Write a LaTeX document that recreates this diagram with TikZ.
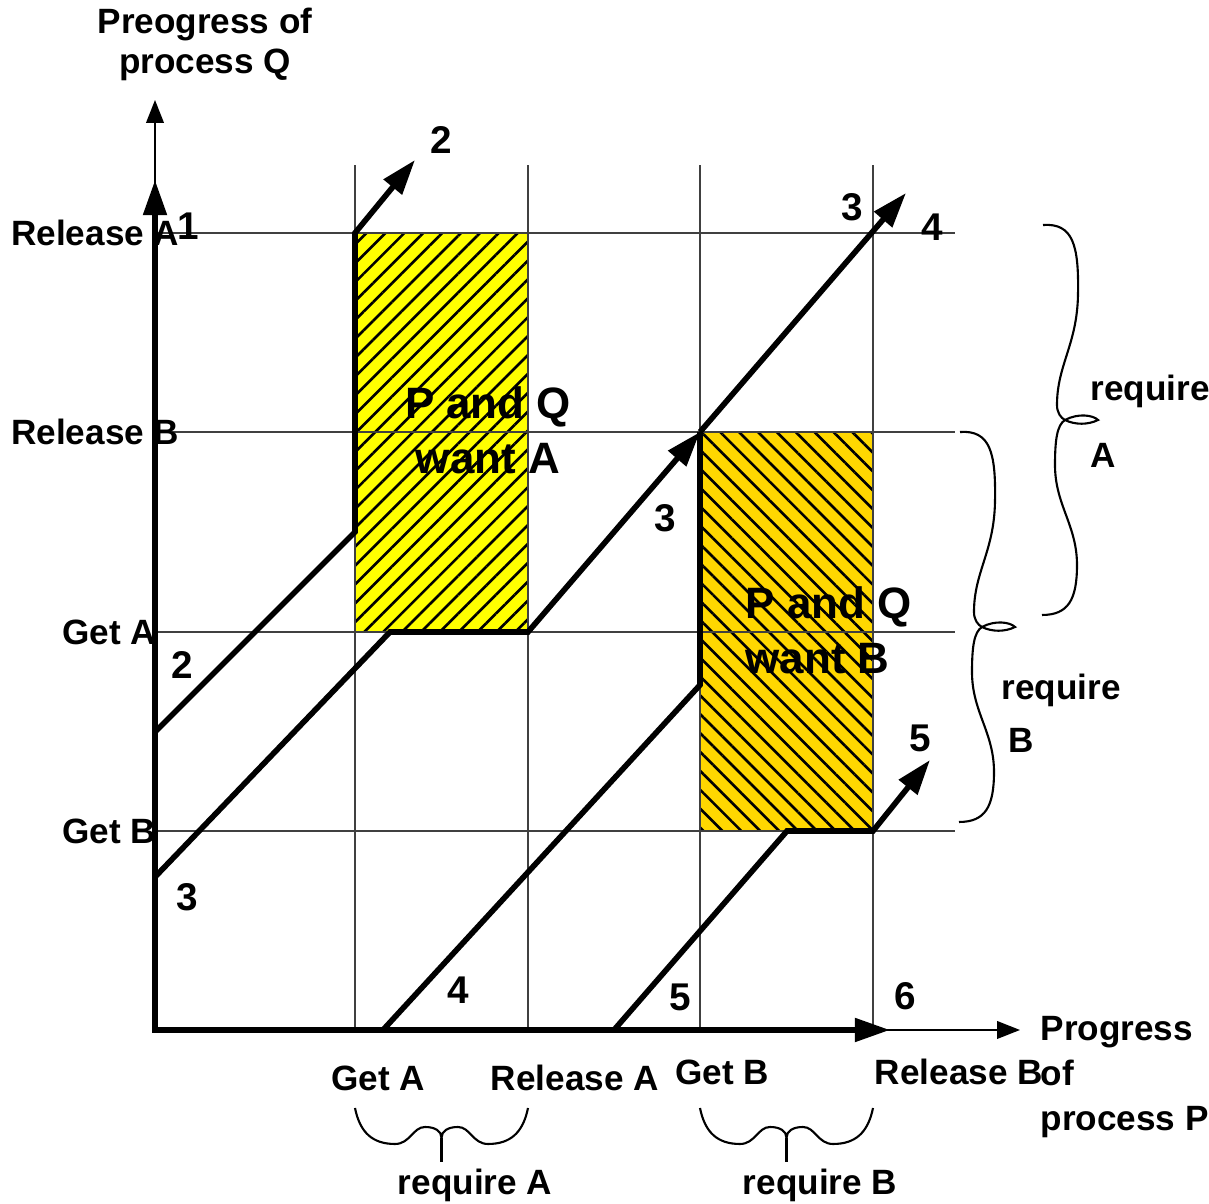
\documentclass[tikz,border=0pt]{standalone}
\usepackage{fontspec}
\setmainfont{Liberation Sans}
\usepackage{xcolor}
\usetikzlibrary{arrows.meta,patterns.meta,positioning}

\definecolor{hatchyellow}{RGB}{255,255,0}
\definecolor{hatchgold}{RGB}{255,215,0}

\tikzset{
  >={Triangle[length=10pt,width=6.5pt]},
  gridline/.style={line width=0.4pt, black!75},
  route/.style={line width=1.6pt},
  axisthin/.style={line width=0.5pt, -{Triangle[length=6.5pt,width=5pt]}},
  numlabel/.style={font=\fontsize{11}{13}\selectfont\bfseries, inner sep=0pt},
  axlabel/.style={font=\fontsize{10}{12}\selectfont\bfseries, inner sep=0pt},
  zonelabel/.style={font=\fontsize{12.5}{15.6}\selectfont\bfseries, inner sep=0pt},
  bracepath/.style={line width=0.6pt},
  rightbrace/.pic={
    \draw[bracepath] (0,0) .. controls (0.30,0.02) and (0.36,-0.20) .. (0.35,-0.70)
      .. controls (0.34,-1.20) and (0.14,-1.40) .. (0.14,-1.80)
      .. controls (0.14,-1.88) and (0.18,-1.93) .. (0.22,-1.95)
      .. controls (0.35,-1.88) and (0.50,-1.90) .. (0.55,-1.95)
      .. controls (0.45,-2.00) and (0.32,-2.00) .. (0.22,-1.95)
      .. controls (0.14,-2.00) and (0.12,-2.15) .. (0.12,-2.40)
      .. controls (0.12,-2.80) and (0.34,-3.00) .. (0.34,-3.40)
      .. controls (0.34,-3.75) and (0.25,-3.90) .. (-0.01,-3.90);
  },
  bottombrace/.pic={
    \draw[bracepath] (0,0) .. controls (0.05,-0.25) and (0.18,-0.36) .. (0.40,-0.36)
      .. controls (0.55,-0.36) and (0.58,-0.19) .. (0.70,-0.19)
      .. controls (0.80,-0.19) and (0.865,-0.23) .. (0.865,-0.30)
      .. controls (0.865,-0.23) and (0.93,-0.19) .. (1.03,-0.19)
      .. controls (1.15,-0.19) and (1.18,-0.36) .. (1.33,-0.36)
      .. controls (1.55,-0.36) and (1.68,-0.25) .. (1.73,0);
    \draw[bracepath] (0.865,-0.30) -- (0.865,-0.54);
  }
}

\begin{document}
\begin{tikzpicture}
  \useasboundingbox (-1.55,-1.74) rectangle (10.54,10.30);

  % Shared-resource zones
  \path[fill=hatchyellow, postaction={pattern={Lines[angle=45,distance=3.8pt,line width=0.75pt]}}]
    (2.0,3.98) rectangle (3.73,7.97);
  \path[fill=hatchgold, postaction={pattern={Lines[angle=-45,distance=3.8pt,line width=0.75pt]}}]
    (5.45,1.99) rectangle (7.18,5.98);

  % Grid
  \foreach \x in {2.0,3.73,5.45,7.18}
    \draw[gridline] (\x,0) -- (\x,8.65);
  \foreach \y in {1.99,3.98,5.98,7.97}
    \draw[gridline] (0,\y) -- (8.0,\y);

  % Axes
  \coordinate (O) at (0,0);
  \coordinate (ytop) at (0,9.3);
  \coordinate (ythick) at (0,8.5);
  \coordinate (xend) at (8.65,0);
  \coordinate (xthick) at (7.35,0);
  \draw[axisthin] (O) -- (ytop);
  \draw[axisthin] (O) -- (xend);
  \draw[route, <->] (ythick) -- (O) -- (xthick);

  % Trajectories
  \coordinate (p2a) at (0,2.98);
  \coordinate (p2b) at (2.0,4.98);
  \coordinate (p2c) at (2.0,7.97);
  \coordinate (p2d) at (2.6,8.7);
  \coordinate (p3a) at (0,1.53);
  \coordinate (p3b) at (2.35,3.98);
  \coordinate (p3c) at (3.73,3.98);
  \coordinate (p3d) at (5.45,5.98);
  \coordinate (p3e) at (7.51,8.37);
  \coordinate (p4a) at (2.28,0);
  \coordinate (p4b) at (5.45,3.45);
  \coordinate (p5a) at (4.59,0);
  \coordinate (p5b) at (6.32,1.99);
  \coordinate (p5c) at (7.18,1.99);
  \coordinate (p5d) at (7.75,2.7);
  \draw[route, ->] (p2a) -- (p2b) -- (p2c) -- (p2d);
  \draw[route, ->] (p3a) -- (p3b) -- (p3c) -- (p3d);
  \draw[route, ->] (p3d) -- (p3e);
  \draw[route] (p4a) -- (p4b) -- (p3d);
  \draw[route, ->] (p5a) -- (p5b) -- (p5c) -- (p5d);

  % Zone texts
  \node[zonelabel, align=center] (wantA) at (3.33,6.0) {P and Q\\want A};
  \node[zonelabel, align=left, anchor=west] (wantB) at (5.90,4.0) {P and Q\\want B};

  % Axis titles
  \node[axlabel, align=center, font=\fontsize{10}{11.4}\selectfont\bfseries] (qtitle) at (0.50,9.86) {Preogress of\\process Q};
  \node[axlabel, align=left, anchor=west, font=\fontsize{10}{12.8}\selectfont\bfseries] (ptitle) at (8.85,-0.47) {Progress\\of\\process P};

  % Q steps
  \node[axlabel, anchor=east] (qrelA) at (0.25,7.97) {Release A};
  \node[axlabel, anchor=east] (qrelB) at (0.25,5.98) {Release B};
  \node[axlabel, anchor=east] (qgetA) at (0.02,3.98) {Get A};
  \node[axlabel, anchor=east] (qgetB) at (0.02,1.99) {Get B};

  % P steps
  \node[axlabel] (pgetA) at (2.23,-0.48) {Get A};
  \node[axlabel] (prelA) at (4.20,-0.48) {Release A};
  \node[axlabel] (pgetB) at (5.67,-0.42) {Get B};
  \node[axlabel] (prelB) at (8.04,-0.42) {Release B};

  % Braces
  \pic (braceQA) at (8.88,8.05) {rightbrace};
  \pic (braceQB) at (8.05,5.98) {rightbrace};
  \pic (bracePA) at (2.0,-0.78) {bottombrace};
  \pic (bracePB) at (5.45,-0.78) {bottombrace};
  \node[axlabel, align=left, anchor=west, font=\fontsize{10}{19}\selectfont\bfseries] (reqQA) at (9.35,6.085) {require\\A};
  \node[axlabel, align=left, anchor=west, font=\fontsize{10}{15}\selectfont\bfseries] (reqQB) at (8.46,3.17) {require\\\hspace*{0.07cm}B};
  \node[axlabel] (reqPA) at (3.20,-1.55) {require A};
  \node[axlabel] (reqPB) at (6.65,-1.55) {require B};

  % Trajectory numbers
  \node[numlabel] (n1) at (0.33,8.04) {1};
  \node[numlabel] (n2top) at (2.86,8.90) {2};
  \node[numlabel] (n3top) at (6.97,8.23) {3};
  \node[numlabel] (n4top) at (7.77,8.03) {4};
  \node[numlabel] (n3mid) at (5.10,5.12) {3};
  \node[numlabel] (n2left) at (0.27,3.65) {2};
  \node[numlabel] (n3left) at (0.32,1.33) {3};
  \node[numlabel] (n4bot) at (3.03,0.40) {4};
  \node[numlabel] (n5bot) at (5.25,0.33) {5};
  \node[numlabel] (n6) at (7.50,0.34) {6};
  \node[numlabel] (n5right) at (7.65,2.92) {5};
\end{tikzpicture}
\end{document}
